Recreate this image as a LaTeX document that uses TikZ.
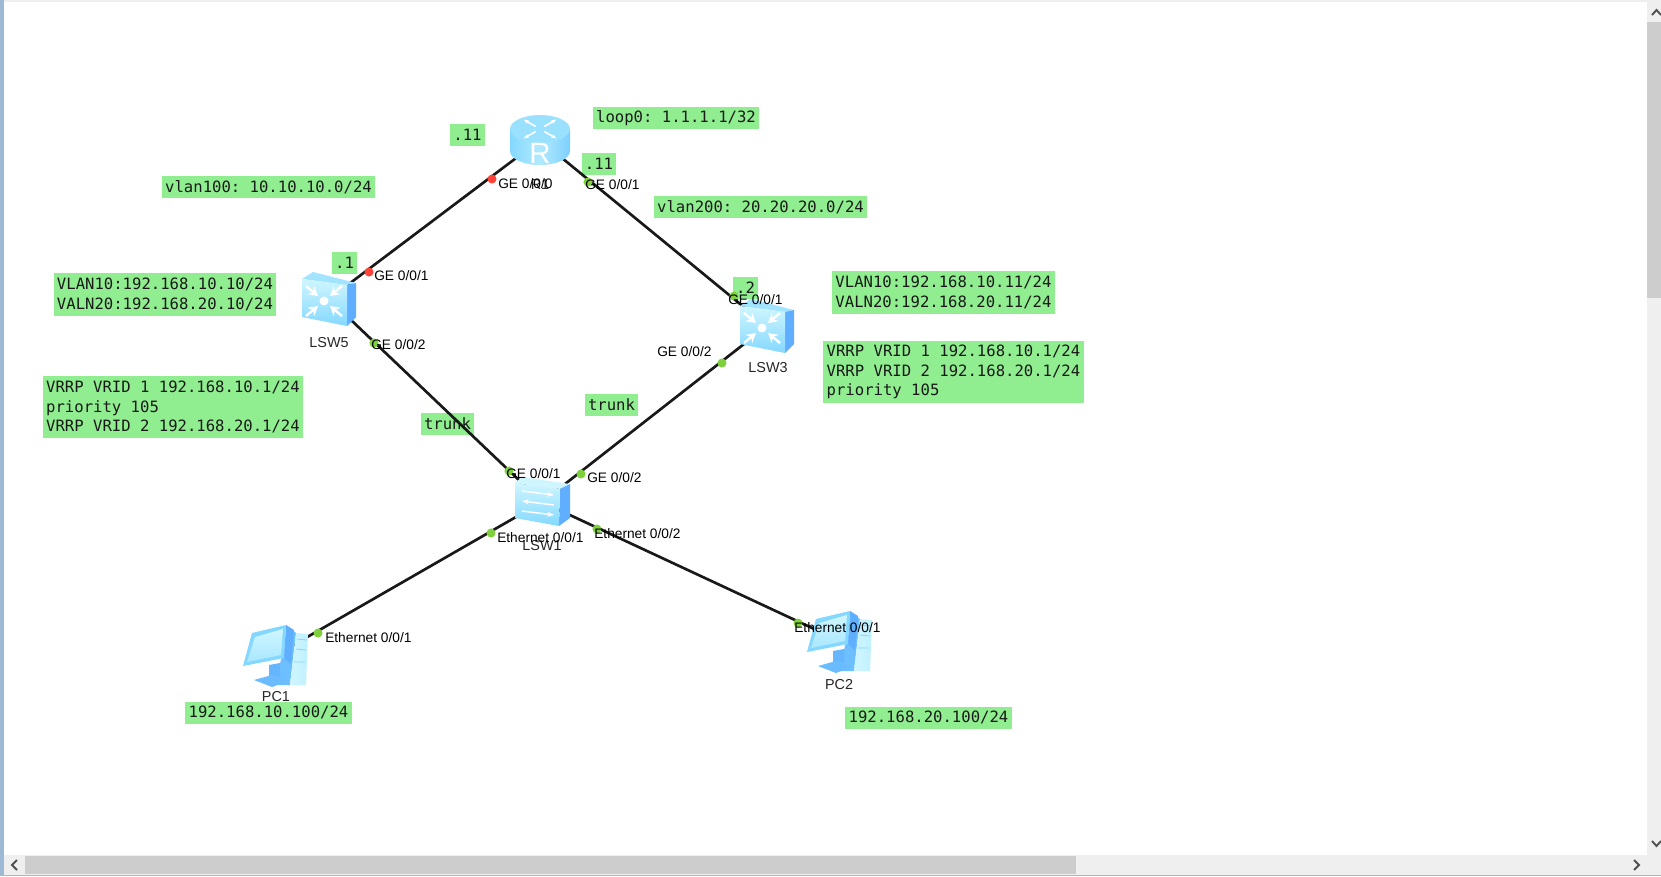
\documentclass[tikz,border=0pt]{standalone}
\usepackage{fontspec}
\setmainfont{Liberation Sans}
\newfontfamily\notefont{DejaVu Sans Mono}
\usepackage{xcolor}
\usetikzlibrary{arrows.meta,positioning}
\frenchspacing
\definecolor{notegreen}{HTML}{90EE90}
\definecolor{iconpale}{HTML}{CFF6FF}
\definecolor{iconmid}{HTML}{84D8FF}
\definecolor{iconblue}{HTML}{5FAEFF}
\definecolor{portgreen}{HTML}{7FD13B}
\definecolor{portred}{HTML}{FF4338}
\definecolor{barbg}{HTML}{EFEFEF}
\definecolor{barthumb}{HTML}{CDCDCD}
\definecolor{barmark}{HTML}{505050}
\definecolor{frameblue}{HTML}{9DB9D5}
\tikzset{
  routerpic/.pic={
    \path[left color=iconmid, right color=iconmid!80!iconblue, middle color=iconpale!60!iconmid]
      (-30,-11) -- (-30,11) arc[start angle=180, end angle=0, x radius=30, y radius=14] -- (30,-11) -- cycle;
    \path[fill=iconmid!70!iconpale] (0,-11) ellipse[x radius=30, y radius=14];
    \foreach \a in {30,150,210,330}
      \draw[white, line width=1.2pt, -{Stealth[length=4pt]}] ([shift={(\a:5)}]0,-11) -- ([shift={(\a:19)}]0,-11);
    \node[white, inner sep=0pt, font=\fontsize{22}{22}\selectfont] at (0,13) {R};
  },
  corepic/.pic={
    \path[fill=iconmid!60!iconpale] (-27,-20) -- (-16,-27) -- (27,-16) -- (18,-14) -- cycle;
    \path[fill=iconblue] (18,-14) -- (27,-16) -- (27,18) -- (18,27) -- cycle;
    \path[top color=iconpale, bottom color=iconmid] (-27,-20) -- (18,-14) -- (18,27) -- (-27,18) -- cycle;
    \foreach \sx/\sy in {-1/-1,1/-1,-1/1,1/1}
      \draw[white, line width=1.8pt, -{Stealth[length=7pt, width=8pt]}] (-5+18*\sx,2+15*\sy) -- (-5+6*\sx,2+5*\sy);
    \path[fill=white] (-5,2) circle[radius=4.5];
  },
  accesspic/.pic={
    \path[fill=iconpale] (-27,-19) -- (-20,-25) -- (28,-18) -- (18,-13) -- cycle;
    \path[fill=iconblue] (18,-13) -- (28,-18) -- (28,16) -- (17,24) -- cycle;
    \path[top color=iconpale, bottom color=iconmid] (-27,-19) -- (18,-13) -- (17,24) -- (-27,16) -- cycle;
    \draw[white, line width=1.1pt, -{Stealth[length=5pt]}] (-20,-11) -- (12,-7);
    \draw[white, line width=1.1pt, {Stealth[length=5pt]}-] (-20,-1) -- (12,3);
    \draw[white, line width=1.1pt, -{Stealth[length=5pt]}] (-20,9) -- (12,13);
  },
  hostpic/.pic={
    \path[fill=iconblue!60!iconmid] (14,-27) -- (20,-22) -- (14,30) -- (-2,30) -- cycle;
    \path[left color=iconpale, right color=iconpale!80!iconmid] (20,-22) -- (32,-21) -- (30,30) -- (14,30) -- cycle;
    \draw[iconmid, line width=.6pt] (21,-16) -- (31,-15) (20,-6) -- (30,-5) (18,7) -- (29,7);
    \path[fill=iconblue!80!iconmid] (-7,10) -- (4,8) -- (4,22) -- (-7,22) -- cycle;
    \path[fill=iconblue!70!iconmid] (-22,25) -- (-4,20) -- (12,26) -- (-4,32) -- cycle;
    \path[fill=iconblue] (10,-30) -- (18,-25) -- (15,9) -- (8,3) -- cycle;
    \path[fill=iconmid] (-24,-22) -- (10,-30) -- (8,3) -- (-33,11) -- cycle;
    \path[top color=iconpale, bottom color=iconmid!50!iconpale] (-21,-18) -- (7,-26) -- (5,0) -- (-29,7) -- cycle;
  }
}

\begin{document}
\begin{tikzpicture}[
  x=0.75pt, y=-0.75pt,
  note/.style={fill=notegreen, inner xsep=2.5pt, inner ysep=0pt, minimum height=16.5pt, align=left,
    text=black!90, font=\notefont\fontsize{11.7}{14.7}\selectfont},
  twoline/.style={note, minimum height=32pt},
  threeline/.style={note, minimum height=46.5pt},
  port/.style={anchor=west, inner sep=0pt, yshift=-0.75pt, text=black, font=\fontsize{10.3}{12}\selectfont},
  devname/.style={inner sep=0pt, yshift=-0.75pt, text=black!85, font=\fontsize{10.8}{12}\selectfont},
  device/.style={inner sep=0pt, minimum width=45pt, minimum height=38pt},
  link/.style={line width=2pt, black!90},
  dot/.style={circle, inner sep=0pt, minimum size=6.8pt},
  upport/.style={dot, fill=portgreen},
  downport/.style={dot, fill=portred},
  chrome/.style={fill=barbg},
  thumb/.style={fill=barthumb}
]
\useasboundingbox (0,0) rectangle (1661,876);
\fill[white] (0,0) rectangle (1661,876);
\fill[barbg] (0,0) rectangle (1661,1.5);
\fill[frameblue] (0,0) rectangle (3.5,876);
\fill[frameblue] (0,874.5) rectangle (1661,876);
\fill[chrome] (1647,0) rectangle (1661,855);
\fill[thumb] (1647,22) rectangle (1661,298);
\fill[chrome] (3.5,855) rectangle (1661,874.5);
\fill[thumb] (25,855.5) rectangle (1076,873.5);
\draw[barmark, line width=1.4pt] (1652,15) -- (1656.5,10) -- (1661,15);
\draw[barmark, line width=1.4pt] (1652,841) -- (1656.5,846) -- (1661,841);
\draw[barmark, line width=1.4pt] (17,860) -- (12,865) -- (17,870);
\draw[barmark, line width=1.4pt] (1634,860) -- (1639,865) -- (1634,870);

\node[device] (r1) at (540,140) {};
\node[device] (lsw5) at (329,299) {};
\node[device] (lsw3) at (767,326) {};
\node[device] (lsw1) at (542,502) {};
\node[device] (pc1) at (276,655) {};
\node[device] (pc2) at (840,641) {};

\node[note] (nleft) at (467.5,135) {.11};
\node[note] (nloop) at (676,118) {loop0: 1.1.1.1/32};
\node[note] (nright) at (599,164) {.11};
\node[note] (nvlana) at (268.5,187) {vlan100: 10.10.10.0/24};
\node[note] (nvlanb) at (760.5,207) {vlan200: 20.20.20.0/24};
\node[note] (nfive) at (344.5,262.5) {.1};
\node[note] (nthree) at (745.5,288) {.2};
\node[twoline] (naddrl) at (165,294.5) {VLAN10:192.168.10.10/24\\VALN20:192.168.20.10/24};
\node[threeline] (nvrrpl) at (173,407) {VRRP VRID 1 192.168.10.1/24\\priority 105\\VRRP VRID 2 192.168.20.1/24};
\node[twoline] (naddrr) at (943.5,292.5) {VLAN10:192.168.10.11/24\\VALN20:192.168.20.11/24};
\node[threeline] (nvrrpr) at (953.5,372) {VRRP VRID 1 192.168.10.1/24\\VRRP VRID 2 192.168.20.1/24\\priority 105};
\node[note] (ntrunkl) at (447.5,424) {trunk};
\node[note] (ntrunkr) at (611.5,405) {trunk};

\draw[link] (r1.center) -- (lsw5.center);
\draw[link] (r1.center) -- (lsw3.center);
\draw[link] (lsw5.center) -- (lsw1.center);
\draw[link] (lsw3.center) -- (lsw1.center);
\draw[link] (lsw1.center) -- (pc1.center);
\draw[link] (lsw1.center) -- (pc2.center);

\pic at (r1) {routerpic};
\pic at (lsw5) {corepic};
\pic at (lsw3) {corepic};
\pic at (lsw1) {accesspic};
\pic at (pc1) {hostpic};
\pic at (pc2) {hostpic};

\node[devname] (r1name) at (540,184) {R1};
\node[devname] (lsw5name) at (329,342) {LSW5};
\node[devname] (lsw3name) at (768,367) {LSW3};
\node[devname] (lsw1name) at (542,545) {LSW1};
\node[devname] (pc1name) at (276,696) {PC1};
\node[devname] (pc2name) at (839,684) {PC2};

\node[note] (nipa) at (268.5,712.5) {192.168.10.100/24};
\node[note] (nipb) at (928.5,717.5) {192.168.20.100/24};

\node[downport] (da) at (492,179) {};
\node[upport] (db) at (588,182) {};
\node[downport] (dc) at (369,272) {};
\node[upport] (dd) at (374,343) {};
\node[upport] (de) at (734,296) {};
\node[upport] (df) at (722,363) {};
\node[upport] (dg) at (509,471) {};
\node[upport] (dh) at (581,474) {};
\node[upport] (di) at (491,533) {};
\node[upport] (dj) at (597,529) {};
\node[upport] (dk) at (318,633) {};
\node[upport] (dl) at (798,623) {};

\node[port] (pa) at (498,183) {GE 0/0/0};
\node[port] (pb) at (585,184) {GE 0/0/1};
\node[port] (pc) at (374,275) {GE 0/0/1};
\node[port] (pd) at (371,344) {GE 0/0/2};
\node[port] (pe) at (728,299) {GE 0/0/1};
\node[port] (pf) at (657,351) {GE 0/0/2};
\node[port] (pg) at (506,473) {GE 0/0/1};
\node[port] (ph) at (587,477) {GE 0/0/2};
\node[port] (pi) at (497,537) {Ethernet 0/0/1};
\node[port] (pj) at (594,533) {Ethernet 0/0/2};
\node[port] (pk) at (325,637) {Ethernet 0/0/1};
\node[port] (pl) at (794,627) {Ethernet 0/0/1};
\end{tikzpicture}
\end{document}
